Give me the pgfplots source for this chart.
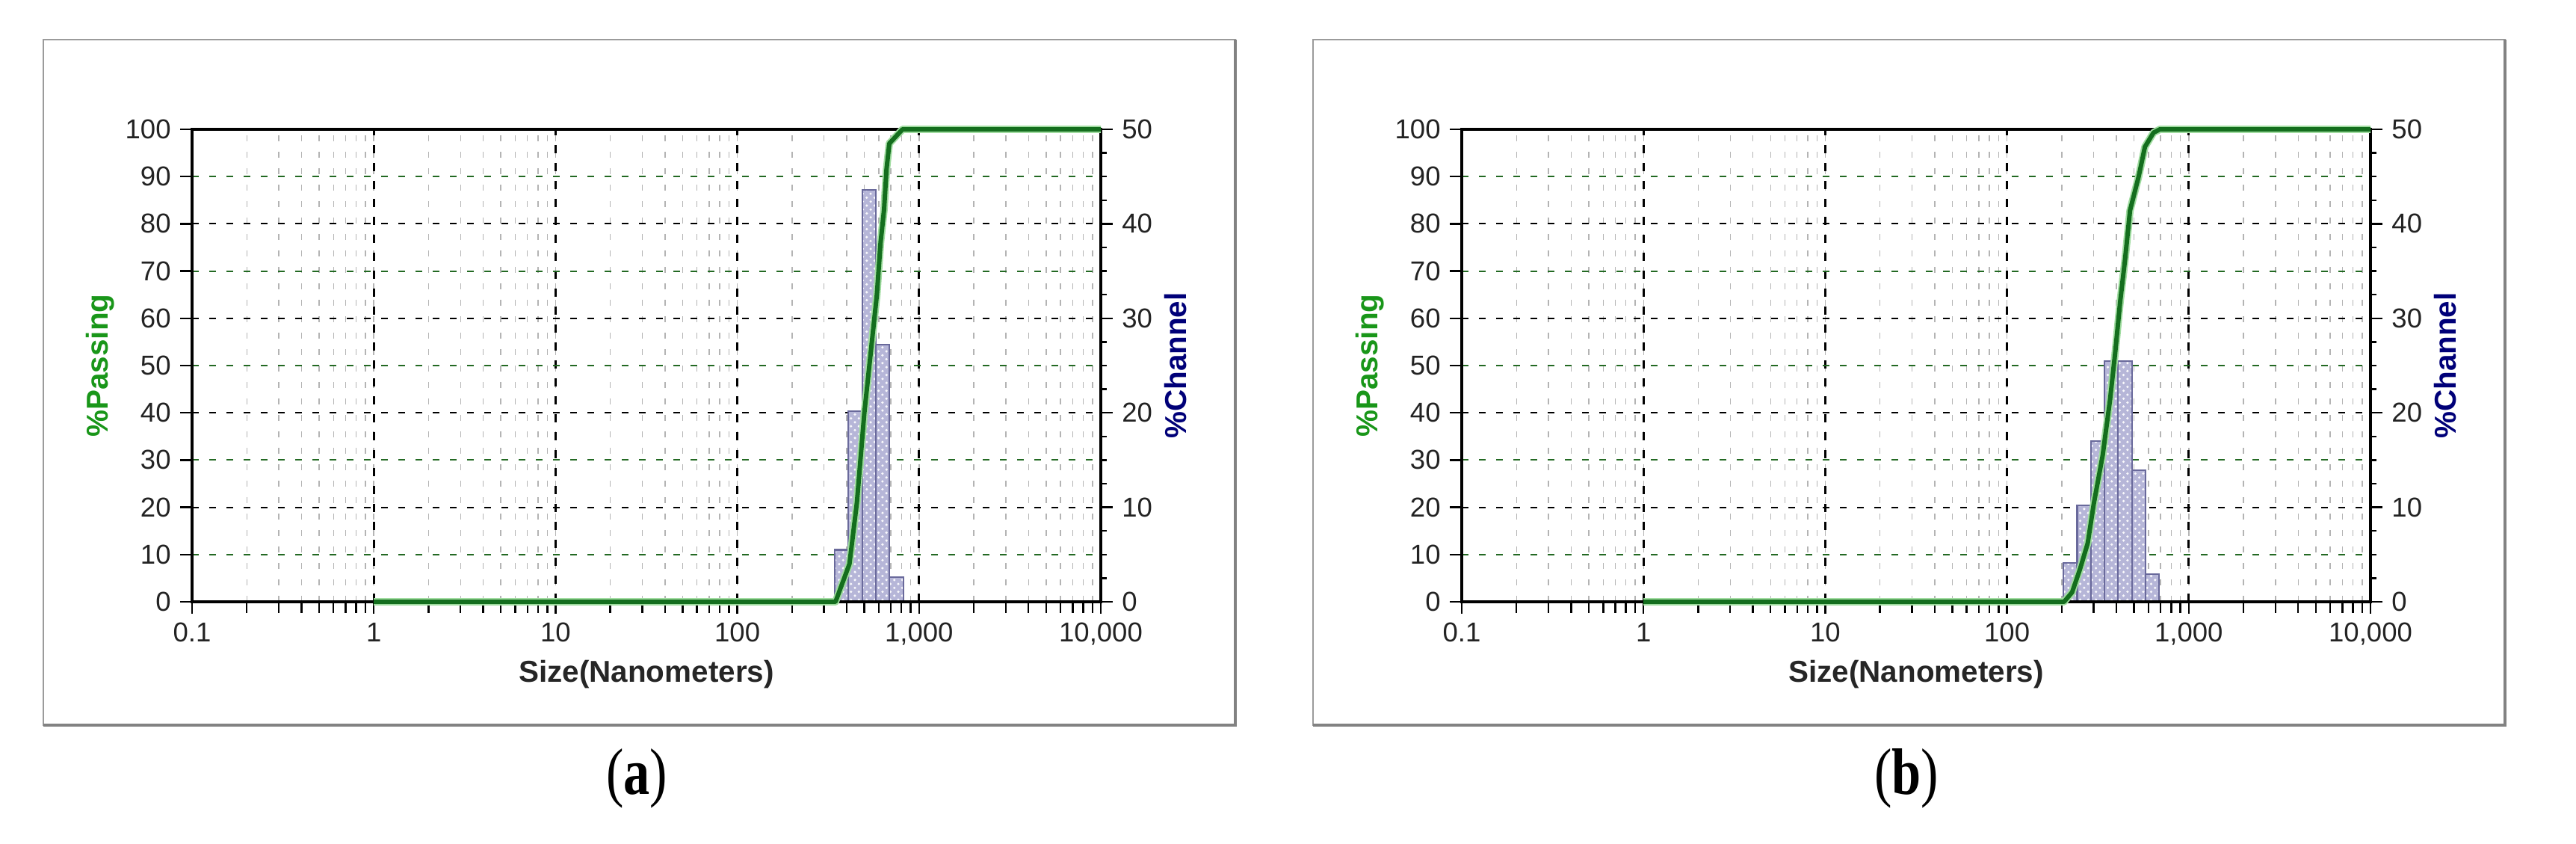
\documentclass[border=0pt]{standalone}
\usepackage{pgfplots}
\pgfplotsset{compat=1.18}
\usepackage{pgfplotstable}
\usepackage{fontspec}
\setmainfont{Liberation Sans}
\newfontfamily\capfont{Liberation Serif}
\usepackage{graphicx}
\usetikzlibrary{patterns}

\definecolor{curvegreen}{RGB}{20,110,30}
\definecolor{curvelight}{RGB}{160,220,160}
\definecolor{gridgreen}{RGB}{35,105,35}
\definecolor{labelgreen}{RGB}{25,150,25}
\definecolor{chnavy}{RGB}{0,0,120}
\definecolor{barfill}{RGB}{182,182,216}
\definecolor{baredge}{RGB}{105,105,155}
\definecolor{framegray}{RGB}{155,155,155}
\definecolor{framedark}{RGB}{130,130,130}
\definecolor{ticktext}{RGB}{35,35,35}
\definecolor{minorgrid}{RGB}{180,180,180}

\pgfplotstableread{
x y
1 0
347 0
414 8
455 21
500 40
550 55
586 65
614 76
642 83
662 91.5
686 97
811 100
10000 100
}\curveA

\pgfplotstableread{
x h
343.7 5.5
408.8 20.2
486.1 43.6
578.2 27.2
687.5 2.6
817.6 0
}\barsA

\pgfplotstableread{
x y
1 0
206 0
228 2
252 6.9
278 12.4
300 20.7
336 31
369 42.8
393 52.4
419 63.4
446 72.4
475 82.8
530 90
574 96.3
640 99.3
694 100
10000 100
}\curveB

\pgfplotstableread{
x h
204.4 4.1
243.1 10.2
289.0 17.0
343.7 25.5
408.8 25.5
486.1 13.9
578.2 2.9
687.5 0
}\barsB

\begin{document}
\begin{tikzpicture}
  \path (0,0) rectangle (344.7mm,112.9mm);
  % ================= chart (a) =================
  \draw[framegray, line width=0.6pt] (5.8mm,15.9mm) rectangle (165.3mm,107.6mm);
  \draw[framedark, line width=1.2pt] (5.8mm,15.9mm) -- (165.3mm,15.9mm) -- (165.3mm,107.6mm);
  \begin{axis}[scale only axis, width=121.6mm, height=63.2mm,
    xmode=log, xmin=0.1, xmax=10000, ymin=0, ymax=100, clip=false,
    at={(25.7mm,32.4mm)}, anchor=south west,
    axis line style={black, line width=0.9pt},
    tick style={black, line width=0.7pt},
    ticklabel style={font=\fontsize{10.4}{12}\selectfont, text=ticktext},
    xtick={0.1,1,10,100,1000,10000},
    xticklabels={0.1,1,10,100,{1,000},{10,000}},
    ytick={0,20,40,60,80,100},
    extra y ticks={10,30,50,70,90},
    extra y tick style={major y grid style={gridgreen, dash pattern=on 0.9mm off 1.4mm, line width=0.6pt}},
    minor y tick num=0,
    tick pos=left, tick align=outside,
    major tick length=1.6mm, minor tick length=1.5mm,
    xmajorgrids, xminorgrids, ymajorgrids,
    major x grid style={black, dash pattern=on 1.1mm off 1.3mm, line width=0.8pt},
    minor x grid style={minorgrid, dash pattern=on 0.8mm off 1.4mm, line width=0.4pt},
    major y grid style={black, dash pattern=on 0.9mm off 1.4mm, line width=0.55pt},
    /pgf/number format/assume math mode=true,
  ]
    \node[rotate=90, font=\bfseries\fontsize{11.5}{13}\selectfont, text=labelgreen] at (axis description cs:-0.101,0.5) {\%Passing};
    \node[font=\bfseries\fontsize{11.5}{13}\selectfont, text=black!85] at (axis description cs:0.5,-0.1535) {Size(Nanometers)};
  \end{axis}
  \begin{axis}[scale only axis, width=121.6mm, height=63.2mm,
    xmode=log, xmin=0.1, xmax=10000, ymin=0, ymax=50, clip=false,
    at={(25.7mm,32.4mm)}, anchor=south west,
    axis line style={black, line width=0.9pt},
    tick style={black, line width=0.7pt},
    ticklabel style={font=\fontsize{10.4}{12}\selectfont, text=ticktext},
    axis x line=none, axis y line*=right,
    ytick={0,10,...,50}, minor y tick num=3,
    tick align=outside, major tick length=1.6mm, minor tick length=0.8mm,
    /pgf/number format/assume math mode=true,
  ]
    \addplot[ybar interval, fill=barfill, draw=baredge, line width=0.6pt,
      postaction={pattern=crosshatch dots, pattern color=white!92!barfill}] table[x=x, y=h] {\barsA};
    \node[rotate=90, font=\bfseries\fontsize{11.5}{13}\selectfont, text=chnavy] at (axis description cs:1.0822,0.5) {\%Channel};
  \end{axis}
  \begin{axis}[scale only axis, width=121.6mm, height=63.2mm,
    xmode=log, xmin=0.1, xmax=10000, ymin=0, ymax=100, clip=false,
    at={(25.7mm,32.4mm)}, anchor=south west,
    axis line style={black, line width=0.9pt},
    tick style={black, line width=0.7pt},
    axis lines*=left, xtick=\empty, ytick=\empty,
    minor ytick={0,2.5,...,100},
    tick align=outside, minor tick length=0.8mm,
  ]
    \addplot[curvelight, line width=2.8pt, line join=round] table[x=x, y=y] {\curveA};
    \addplot[curvegreen, line width=1.7pt, line join=round] table[x=x, y=y] {\curveA};
  \end{axis}
  \node[font=\capfont\fontsize{20}{22}\selectfont] at (85.2mm,8.8mm) {\scalebox{1}[1.25]{(\textbf{a})}};

  % ================= chart (b) =================
  \draw[framegray, line width=0.6pt] (175.7mm,15.9mm) rectangle (335.2mm,107.6mm);
  \draw[framedark, line width=1.2pt] (175.7mm,15.9mm) -- (335.2mm,15.9mm) -- (335.2mm,107.6mm);
  \begin{axis}[scale only axis, width=121.6mm, height=63.2mm,
    xmode=log, xmin=0.1, xmax=10000, ymin=0, ymax=100, clip=false,
    at={(195.6mm,32.4mm)}, anchor=south west,
    axis line style={black, line width=0.9pt},
    tick style={black, line width=0.7pt},
    ticklabel style={font=\fontsize{10.4}{12}\selectfont, text=ticktext},
    xtick={0.1,1,10,100,1000,10000},
    xticklabels={0.1,1,10,100,{1,000},{10,000}},
    ytick={0,20,40,60,80,100},
    extra y ticks={10,30,50,70,90},
    extra y tick style={major y grid style={gridgreen, dash pattern=on 0.9mm off 1.4mm, line width=0.6pt}},
    minor y tick num=0,
    tick pos=left, tick align=outside,
    major tick length=1.6mm, minor tick length=1.5mm,
    xmajorgrids, xminorgrids, ymajorgrids,
    major x grid style={black, dash pattern=on 1.1mm off 1.3mm, line width=0.8pt},
    minor x grid style={minorgrid, dash pattern=on 0.8mm off 1.4mm, line width=0.4pt},
    major y grid style={black, dash pattern=on 0.9mm off 1.4mm, line width=0.55pt},
    /pgf/number format/assume math mode=true,
  ]
    \node[rotate=90, font=\bfseries\fontsize{11.5}{13}\selectfont, text=labelgreen] at (axis description cs:-0.101,0.5) {\%Passing};
    \node[font=\bfseries\fontsize{11.5}{13}\selectfont, text=black!85] at (axis description cs:0.5,-0.1535) {Size(Nanometers)};
  \end{axis}
  \begin{axis}[scale only axis, width=121.6mm, height=63.2mm,
    xmode=log, xmin=0.1, xmax=10000, ymin=0, ymax=50, clip=false,
    at={(195.6mm,32.4mm)}, anchor=south west,
    axis line style={black, line width=0.9pt},
    tick style={black, line width=0.7pt},
    ticklabel style={font=\fontsize{10.4}{12}\selectfont, text=ticktext},
    axis x line=none, axis y line*=right,
    ytick={0,10,...,50}, minor y tick num=3,
    tick align=outside, major tick length=1.6mm, minor tick length=0.8mm,
    /pgf/number format/assume math mode=true,
  ]
    \addplot[ybar interval, fill=barfill, draw=baredge, line width=0.6pt,
      postaction={pattern=crosshatch dots, pattern color=white!92!barfill}] table[x=x, y=h] {\barsB};
    \node[rotate=90, font=\bfseries\fontsize{11.5}{13}\selectfont, text=chnavy] at (axis description cs:1.0822,0.5) {\%Channel};
  \end{axis}
  \begin{axis}[scale only axis, width=121.6mm, height=63.2mm,
    xmode=log, xmin=0.1, xmax=10000, ymin=0, ymax=100, clip=false,
    at={(195.6mm,32.4mm)}, anchor=south west,
    axis line style={black, line width=0.9pt},
    tick style={black, line width=0.7pt},
    axis lines*=left, xtick=\empty, ytick=\empty,
    minor ytick={0,2.5,...,100},
    tick align=outside, minor tick length=0.8mm,
  ]
    \addplot[curvelight, line width=2.8pt, line join=round] table[x=x, y=y] {\curveB};
    \addplot[curvegreen, line width=1.7pt, line join=round] table[x=x, y=y] {\curveB};
  \end{axis}
  \node[font=\capfont\fontsize{20}{22}\selectfont] at (255.1mm,8.8mm) {\scalebox{1}[1.25]{(\textbf{b})}};
\end{tikzpicture}
\end{document}
